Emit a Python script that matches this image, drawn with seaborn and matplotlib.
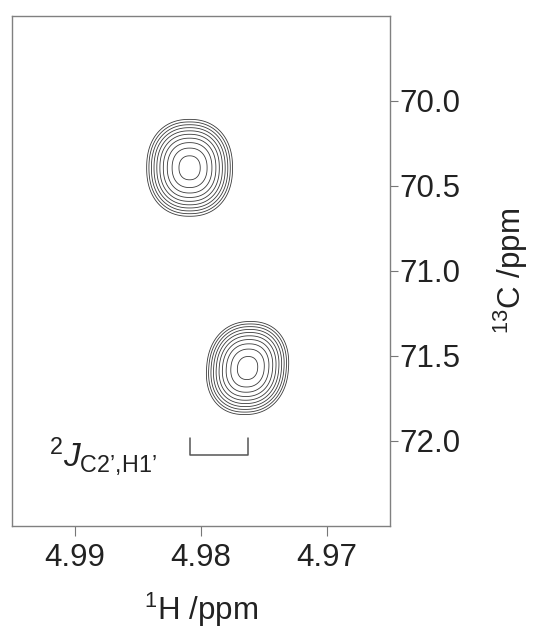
import numpy as np
import seaborn as sns
import matplotlib
matplotlib.use('Agg')
import matplotlib.pyplot as plt
from matplotlib.ticker import FormatStrFormatter

## Peak parameters (ppm)
peak_h = [4.9809, 4.9763]          # 1H shift of each cross peak
peak_c = [70.394, 71.571]          # 13C shift of each cross peak
width_h = [0.00152, 0.00145]       # 1H line width (sigma)
width_c = [0.127, 0.122]           # 13C line width (sigma)
peak_skew = [0.0, -0.07]
peak_amp = [1.0, 1.0]
contour_levels = [0.081, 0.105, 0.137, 0.178, 0.231, 0.300, 0.390, 0.507, 0.659, 0.857]

x_ticks = [4.99, 4.98, 4.97]
y_ticks = [70.0, 70.5, 71.0, 71.5, 72.0]
x_range = [4.995, 4.965]
y_range = [72.5, 69.5]

bracket_top = 71.98
bracket_bottom = 72.08
j_label = "$^{2}J_{\\mathrm{C2\u2019{,}H1\u2019}}$"
j_label_pos = [4.9921, 72.09]

sns.set_theme(style='white')
plt.rcParams['font.family'] = ['Liberation Sans', 'DejaVu Sans']
plt.rcParams['mathtext.fontset'] = 'custom'
plt.rcParams['mathtext.rm'] = 'Liberation Sans'
plt.rcParams['mathtext.it'] = 'Liberation Sans:italic'

## spectrum surface on a grid
hh, cc = np.meshgrid(np.linspace(x_range[1], x_range[0], 400),
                     np.linspace(y_range[1], y_range[0], 400))
zz = np.zeros_like(hh)
p = 2.25
for h0, c0, wh, wc, sk, a in zip(peak_h, peak_c, width_h, width_c, peak_skew, peak_amp):
    v = (cc - c0) / wc
    u = (hh - h0) / wh + sk * v
    r = (np.abs(u) ** p + np.abs(v) ** p) ** (1.0 / p)
    zz += a * np.exp(-0.5 * r ** 2)

fig = plt.figure(figsize=(5.33, 6.3), dpi=100)
ax = fig.add_axes([0.0225, 0.165, 0.709, 0.81])
ax.contour(hh, cc, zz, levels=contour_levels, colors='#3a3a3a', linewidths=0.6)

## J coupling bracket between the two peaks
sns.lineplot(x=[peak_h[0], peak_h[0], peak_h[1], peak_h[1]],
             y=[bracket_top, bracket_bottom, bracket_bottom, bracket_top],
             sort=False, ax=ax, color='#555555', linewidth=1.1, estimator=None)
ax.text(j_label_pos[0], j_label_pos[1], j_label, fontsize=24, ha='left', va='center', color='#222222')

ax.set_xlim(x_range)
ax.set_ylim(y_range)
ax.set_xticks(x_ticks)
ax.set_yticks(y_ticks)
ax.xaxis.set_major_formatter(FormatStrFormatter('%.2f'))
ax.yaxis.set_major_formatter(FormatStrFormatter('%.1f'))
ax.yaxis.tick_right()
ax.yaxis.set_label_position('right')
ax.tick_params(axis='x', bottom=True, direction='out', length=7, width=0.8, color='#777777',
               labelsize=22.5, labelcolor='#222222', pad=5)
ax.tick_params(axis='y', right=True, left=False, direction='out', length=6, width=0.8, color='#777777',
               labelsize=22.5, labelcolor='#222222', pad=1)
for s in ax.spines.values():
    s.set_color('#808080')
    s.set_linewidth(1.0)
ax.set_xlabel(r"$^{1}$H /ppm", fontsize=22.5, color='#222222', labelpad=13)
ax.set_ylabel(r"$^{13}$C /ppm", fontsize=22.5, color='#222222', labelpad=22)

plt.savefig('out.png', dpi=100)
plt.close()
